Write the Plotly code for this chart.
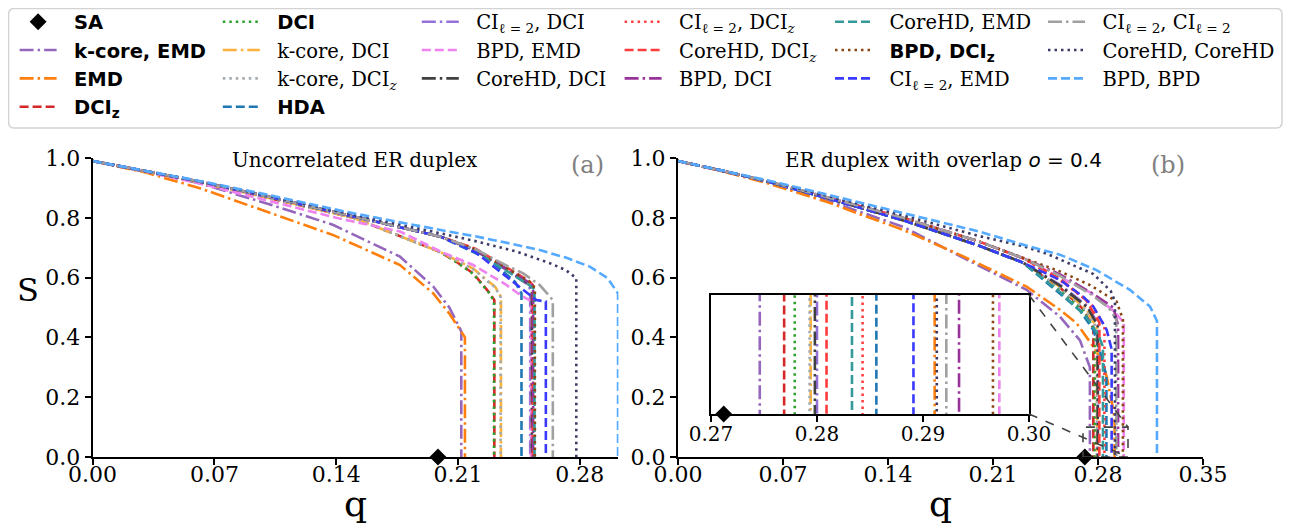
import plotly.graph_objects as go

# page body has an 8px margin; figure is sized/offset so it lands on the reference pixels
OFF = 8
W, H = 1294 - OFF, 529 - OFF

# ---------------- Panel (a): uncorrelated ER duplex ----------------
A_HEAD_Q = [0.0, 0.03, 0.06, 0.10, 0.15, 0.20]
A_TOP_S = [0.99, 0.957, 0.923, 0.872, 0.805, 0.737]
A_LOW_S = [0.99, 0.956, 0.920, 0.868, 0.800, 0.685]

a_kcore_emd_q = [0.0, 0.03, 0.0617, 0.1001, 0.1384, 0.1767, 0.1958, 0.205, 0.2111, 0.2119, 0.2119]
a_kcore_emd_s = [0.99, 0.957, 0.915, 0.848, 0.776, 0.670, 0.570, 0.500, 0.430, 0.420, 0.0]
a_emd_q = [0.0, 0.03, 0.0617, 0.1001, 0.1384, 0.1767, 0.1958, 0.205, 0.2131, 0.2140, 0.2140]
a_emd_s = [0.99, 0.952, 0.899, 0.820, 0.742, 0.642, 0.547, 0.480, 0.405, 0.400, 0.0]
a_dciz_q = A_HEAD_Q + [0.209, 0.2188, 0.2284, 0.2309, 0.2309]
a_dciz_s = A_LOW_S + [0.653, 0.614, 0.547, 0.525, 0.0]
a_dci_q = A_HEAD_Q + [0.209, 0.2188, 0.2284, 0.2307, 0.2307]
a_dci_s = A_LOW_S + [0.652, 0.612, 0.545, 0.520, 0.0]
a_kcore_dci_q = A_HEAD_Q + [0.209, 0.2188, 0.2265, 0.2313, 0.2347, 0.2347]
a_kcore_dci_s = A_LOW_S + [0.660, 0.630, 0.592, 0.570, 0.536, 0.0]
a_kcore_dciz_q = A_HEAD_Q + [0.209, 0.2188, 0.2265, 0.2313, 0.2345, 0.2345]
a_kcore_dciz_s = A_LOW_S + [0.658, 0.628, 0.590, 0.568, 0.535, 0.0]
a_hda_q = A_HEAD_Q + [0.2188, 0.2284, 0.2428, 0.2465, 0.2465]
a_hda_s = A_TOP_S + [0.685, 0.659, 0.586, 0.547, 0.0]
a_ci_dci_q = A_HEAD_Q + [0.22, 0.238, 0.2505, 0.2515, 0.2515]
a_ci_dci_s = A_TOP_S + [0.690, 0.625, 0.575, 0.560, 0.0]
a_bpd_emd_q = [0.0, 0.03, 0.06, 0.10, 0.14, 0.1767, 0.20, 0.2188, 0.238, 0.2457, 0.252, 0.252]
a_bpd_emd_s = [0.99, 0.955, 0.917, 0.858, 0.800, 0.754, 0.687, 0.642, 0.575, 0.542, 0.522, 0.0]
a_corehd_dci_q = A_HEAD_Q + [0.22, 0.238, 0.2505, 0.2525, 0.2525]
a_corehd_dci_s = A_TOP_S + [0.692, 0.628, 0.580, 0.565, 0.0]
a_ci_dciz_q = A_HEAD_Q + [0.22, 0.238, 0.251, 0.2535, 0.2535]
a_ci_dciz_s = A_TOP_S + [0.695, 0.632, 0.585, 0.570, 0.0]
a_corehd_dciz_q = A_HEAD_Q + [0.22, 0.238, 0.251, 0.2530, 0.2530]
a_corehd_dciz_s = A_TOP_S + [0.697, 0.635, 0.588, 0.575, 0.0]
a_bpd_dci_q = A_HEAD_Q + [0.22, 0.238, 0.251, 0.2532, 0.2532]
a_bpd_dci_s = A_TOP_S + [0.693, 0.630, 0.583, 0.570, 0.0]
a_corehd_emd_q = A_HEAD_Q + [0.22, 0.238, 0.251, 0.2540, 0.2540]
a_corehd_emd_s = A_TOP_S + [0.688, 0.622, 0.575, 0.560, 0.0]
a_bpd_dciz_q = A_HEAD_Q + [0.22, 0.238, 0.251, 0.2542, 0.2542]
a_bpd_dciz_s = A_TOP_S + [0.694, 0.633, 0.587, 0.565, 0.0]
a_ci_emd_q = A_HEAD_Q + [0.22, 0.238, 0.2475, 0.255, 0.2605, 0.2605]
a_ci_emd_s = A_TOP_S + [0.685, 0.603, 0.558, 0.525, 0.520, 0.0]
a_ci_ci_q = A_HEAD_Q + [0.22, 0.238, 0.2475, 0.257, 0.2645, 0.2645]
a_ci_ci_s = A_TOP_S + [0.695, 0.640, 0.614, 0.575, 0.525, 0.0]
a_corehd_corehd_q = [0.0, 0.03, 0.06, 0.10, 0.15, 0.20, 0.22, 0.2437, 0.2629, 0.272, 0.278, 0.278]
a_corehd_corehd_s = [0.99, 0.957, 0.924, 0.875, 0.810, 0.748, 0.722, 0.687, 0.648, 0.625, 0.598, 0.0]
a_bpd_bpd_q = [0.0, 0.03, 0.06, 0.10, 0.15, 0.20, 0.22, 0.24, 0.257, 0.272, 0.286, 0.296, 0.302, 0.302]
a_bpd_bpd_s = [0.99, 0.958, 0.925, 0.878, 0.815, 0.759, 0.738, 0.714, 0.692, 0.667, 0.636, 0.598, 0.547, 0.0]
a_sa_q = [0.1985]
a_sa_s = [0.0]

# ---------------- Panel (b): ER duplex with overlap o = 0.4 ----------------
B_HEAD_Q = [0.0, 0.03, 0.06, 0.10, 0.15, 0.20, 0.23]
B_UP_S = [0.99, 0.957, 0.922, 0.868, 0.800, 0.722, 0.665]
B_MID_S = [0.99, 0.957, 0.921, 0.865, 0.792, 0.708, 0.650]

b_kcore_emd_q = [0.0, 0.03, 0.06, 0.10, 0.1213, 0.15, 0.188, 0.2324, 0.2547, 0.268, 0.2746, 0.2746]
b_kcore_emd_s = [0.99, 0.957, 0.918, 0.857, 0.820, 0.770, 0.672, 0.559, 0.469, 0.390, 0.300, 0.0]
b_emd_q = [0.0, 0.03, 0.06, 0.10, 0.1213, 0.15, 0.188, 0.2324, 0.2547, 0.2658, 0.2769, 0.2824, 0.2858, 0.2905, 0.2911, 0.2911]
b_emd_s = [0.99, 0.955, 0.915, 0.852, 0.812, 0.760, 0.676, 0.570, 0.492, 0.447, 0.369, 0.324, 0.269, 0.150, 0.110, 0.0]
b_dciz_q = B_HEAD_Q + [0.255, 0.270, 0.2769, 0.2769]
b_dciz_s = B_MID_S + [0.565, 0.495, 0.430, 0.0]
b_dci_q = B_HEAD_Q + [0.255, 0.270, 0.2779, 0.2779]
b_dci_s = B_MID_S + [0.560, 0.490, 0.425, 0.0]
b_kcore_dci_q = B_HEAD_Q + [0.255, 0.272, 0.2794, 0.2794]
b_kcore_dci_s = B_MID_S + [0.568, 0.495, 0.430, 0.0]
b_kcore_dciz_q = B_HEAD_Q + [0.255, 0.272, 0.2793, 0.2793]
b_kcore_dciz_s = B_MID_S + [0.565, 0.490, 0.430, 0.0]
b_hda_q = B_HEAD_Q + [0.255, 0.268, 0.2769, 0.2824, 0.2856, 0.2856]
b_hda_s = B_MID_S + [0.545, 0.490, 0.425, 0.335, 0.270, 0.0]
b_ci_dci_q = B_HEAD_Q + [0.255, 0.273, 0.2800, 0.2800]
b_ci_dci_s = B_MID_S + [0.575, 0.505, 0.445, 0.0]
b_bpd_emd_q = B_HEAD_Q + [0.255, 0.275, 0.290, 0.2972, 0.2972]
b_bpd_emd_s = B_UP_S + [0.600, 0.550, 0.490, 0.450, 0.0]
b_corehd_dci_q = B_HEAD_Q + [0.255, 0.273, 0.2798, 0.2798]
b_corehd_dci_s = B_MID_S + [0.572, 0.500, 0.440, 0.0]
b_ci_dciz_q = B_HEAD_Q + [0.255, 0.275, 0.2843, 0.2843]
b_ci_dciz_s = B_UP_S + [0.590, 0.515, 0.440, 0.0]
b_corehd_dciz_q = B_HEAD_Q + [0.255, 0.272, 0.2809, 0.2809]
b_corehd_dciz_s = B_UP_S + [0.595, 0.525, 0.450, 0.0]
b_bpd_dci_q = B_HEAD_Q + [0.255, 0.2769, 0.2902, 0.2934, 0.2934]
b_bpd_dci_s = B_UP_S + [0.610, 0.545, 0.500, 0.440, 0.0]
b_corehd_emd_q = B_HEAD_Q + [0.255, 0.272, 0.280, 0.2833, 0.2833]
b_corehd_emd_s = B_MID_S + [0.550, 0.470, 0.410, 0.370, 0.0]
b_bpd_dciz_q = B_HEAD_Q + [0.255, 0.2747, 0.2924, 0.2966, 0.2966]
b_bpd_dciz_s = B_UP_S + [0.620, 0.575, 0.520, 0.460, 0.0]
b_ci_emd_q = B_HEAD_Q + [0.2547, 0.2702, 0.2769, 0.2858, 0.2891, 0.2891]
b_ci_emd_s = B_MID_S + [0.592, 0.536, 0.503, 0.425, 0.360, 0.0]
b_ci_ci_q = B_HEAD_Q + [0.255, 0.275, 0.287, 0.2922, 0.2922]
b_ci_ci_s = B_UP_S + [0.605, 0.545, 0.500, 0.460, 0.0]
b_corehd_corehd_q = [0.0, 0.03, 0.06, 0.10, 0.15, 0.20, 0.23, 0.2458, 0.2769, 0.2885, 0.2913, 0.2913]
b_corehd_corehd_s = [0.99, 0.957, 0.923, 0.873, 0.808, 0.740, 0.705, 0.680, 0.612, 0.555, 0.520, 0.0]
b_bpd_bpd_q = [0.0, 0.03, 0.06, 0.10, 0.15, 0.20, 0.235, 0.255, 0.279, 0.3013, 0.3147, 0.3193, 0.3193]
b_bpd_bpd_s = [0.99, 0.958, 0.925, 0.877, 0.815, 0.755, 0.703, 0.676, 0.625, 0.559, 0.503, 0.455, 0.0]
b_sa_q = [0.2712]
b_sa_s = [0.0]

A_XTICKS = [0.0, 0.07, 0.14, 0.21, 0.28]
B_XTICKS = [0.0, 0.07, 0.14, 0.21, 0.28, 0.35]
Y_TICKS = [0.0, 0.2, 0.4, 0.6, 0.8, 1.0]
INSET_XTICKS = [0.27, 0.28, 0.29, 0.30]
INSET_Q = [0.27, 0.30]
INSET_S = [0.0, 0.1]

SANS = "DejaVu Sans"
SERIF = "DejaVu Serif"
PAD = "\u00a0\u00a0"


def bold(t):
    return f"{PAD}<span style='font-family:{SANS}'><b>{t}</b></span>"


def plain(t):
    return PAD + t


CI = "CI<sub>ℓ = 2</sub>"
DCIZ = "DCI<sub><i>z</i></sub>"

DASHED = "9px,4px"
DOTTED = "2.5px,4px"
DASHDOT = "14px,4px,2.5px,4px"

# key, legend label, colour, dash, legend id, rank
SERIES = [
    ("kcore_emd", bold("k-core, EMD"), "#9467bd", DASHDOT, "legend", 2),
    ("emd", bold("EMD"), "#ff7f0e", DASHDOT, "legend", 3),
    ("dciz", bold("DCI<sub>z</sub>"), "#d62728", DASHED, "legend", 4),
    ("dci", bold("DCI"), "#2ca02c", DOTTED, "legend2", 1),
    ("kcore_dci", plain("k-core, DCI"), "#fbb13c", DASHDOT, "legend2", 2),
    ("kcore_dciz", plain("k-core, " + DCIZ), "#a3aab0", DOTTED, "legend2", 3),
    ("hda", bold("HDA"), "#1f77b4", DASHED, "legend2", 4),
    ("ci_dci", plain(CI + ", DCI"), "#9370db", DASHDOT, "legend3", 1),
    ("bpd_emd", plain("BPD, EMD"), "#ee82ee", DASHED, "legend3", 2),
    ("corehd_dci", plain("CoreHD, DCI"), "#404040", DASHDOT, "legend3", 3),
    ("ci_dciz", plain(CI + ", " + DCIZ), "#ff4040", DOTTED, "legend4", 1),
    ("corehd_dciz", plain("CoreHD, " + DCIZ), "#ff3c3c", DASHED, "legend4", 2),
    ("bpd_dci", plain("BPD, DCI"), "#993399", DASHDOT, "legend4", 3),
    ("corehd_emd", plain("CoreHD, EMD"), "#339999", DASHED, "legend5", 1),
    ("bpd_dciz", bold("BPD, DCI<sub>z</sub>"), "#8b4513", DOTTED, "legend5", 2),
    ("ci_emd", plain(CI + ", EMD"), "#3a3aff", DASHED, "legend5", 3),
    ("ci_ci", plain(CI + ", " + CI), "#a0a0a0", DASHDOT, "legend6", 1),
    ("corehd_corehd", plain("CoreHD, CoreHD"), "#3b3b66", DOTTED, "legend6", 2),
    ("bpd_bpd", plain("BPD, BPD"), "#55aaff", DASHED, "legend6", 3),
]

DATA = {k: (globals()[f"a_{k}_q"], globals()[f"a_{k}_s"], globals()[f"b_{k}_q"], globals()[f"b_{k}_s"])
        for k, *_ in SERIES}

# ---------------- layout geometry (reference pixels) ----------------
AX_L, AX_R = 92.6, 618.4
A_RANGE = [0, 0.3022]
BX_L, BX_R = 678.0, 1203.0
B_RANGE = [0, 0.35]
Y_TOP, Y_BOT = 158.0, 457.0
IN_L, IN_R, IN_T, IN_B = 711.0, 1029.0, 295.0, 414.0


def fx(p):
    return (p - OFF) / W


def fy(p):
    return 1 - (p - OFF) / H


fig = go.Figure()

for key, label, color, dash, leg, rank in SERIES:
    aq, as_, bq, bs = DATA[key]
    line = dict(color=color, width=2.6, dash=dash)
    fig.add_trace(go.Scatter(x=aq, y=as_, mode="lines", name=label, line=line, legend=leg,
                             legendrank=rank, xaxis="x", yaxis="y", showlegend=True))
    fig.add_trace(go.Scatter(x=bq, y=bs, mode="lines", name=label, line=line, legend=leg,
                             showlegend=False, xaxis="x2", yaxis="y2"))
    fig.add_trace(go.Scatter(x=bq, y=bs, mode="lines", name=label, line=line, legend=leg,
                             showlegend=False, xaxis="x3", yaxis="y3"))

sa_marker = dict(symbol="diamond", size=13, color="black")
fig.add_trace(go.Scatter(x=a_sa_q, y=a_sa_s, mode="markers", name=bold("SA"), marker=sa_marker,
                         legend="legend", legendrank=1, cliponaxis=False, xaxis="x", yaxis="y"))
fig.add_trace(go.Scatter(x=b_sa_q, y=b_sa_s, mode="markers", name="SA", marker=sa_marker,
                         showlegend=False, cliponaxis=False, xaxis="x2", yaxis="y2"))
fig.add_trace(go.Scatter(x=b_sa_q, y=b_sa_s, mode="markers", name="SA", marker=sa_marker,
                         showlegend=False, cliponaxis=False, xaxis="x3", yaxis="y3"))

tickfont = dict(family=SERIF, size=22, color="black")
axis_common = dict(showline=True, linecolor="black", linewidth=2, ticks="outside", ticklen=6,
                   tickwidth=2, tickcolor="black", showgrid=False, zeroline=False, tickfont=tickfont,
                   automargin=False)

ydom = [fy(Y_BOT), fy(Y_TOP)]
fig.update_layout(
    xaxis=dict(domain=[fx(AX_L), fx(AX_R)], range=A_RANGE, tickvals=A_XTICKS, tickformat=".2f",
               anchor="y", ticklabelstandoff=-9, **axis_common),
    yaxis=dict(domain=ydom, range=[0, 1], tickvals=Y_TICKS, tickformat=".1f", anchor="x", **axis_common),
    xaxis2=dict(domain=[fx(BX_L), fx(BX_R)], range=B_RANGE, tickvals=B_XTICKS, tickformat=".2f",
                anchor="y2", ticklabelstandoff=-9, **axis_common),
    yaxis2=dict(domain=ydom, range=[0, 1], tickvals=Y_TICKS, tickformat=".1f", anchor="x2", **axis_common),
    xaxis3=dict(domain=[fx(IN_L), fx(IN_R)], range=INSET_Q, tickvals=INSET_XTICKS, tickformat=".2f",
                anchor="y3", mirror=True, showline=True, linecolor="black", linewidth=2, ticks="outside",
                ticklen=6, tickwidth=2, tickcolor="black", showgrid=False, zeroline=False, automargin=False,
                ticklabelstandoff=-5, tickfont=dict(family=SERIF, size=20, color="black")),
    yaxis3=dict(domain=[fy(IN_B), fy(IN_T)], range=INSET_S, anchor="x3", mirror=True, showline=True,
                linecolor="black", linewidth=2, ticks="", showticklabels=False, showgrid=False,
                zeroline=False, automargin=False),
)

# legends: one per column
LEG_TEXT_X = [74.6, 277.8, 476.8, 679.6, 890.0, 1103.0]
ITEMW = 37
legfont = dict(family=SERIF, size=19.5, color="black")
for i, tx in enumerate(LEG_TEXT_X):
    name = "legend" if i == 0 else f"legend{i + 1}"
    fig.update_layout({name: dict(x=fx(tx - ITEMW - 23), y=fy(2.5), xanchor="left", yanchor="top",
                                  orientation="v", bgcolor="rgba(0,0,0,0)", borderwidth=0,
                                  font=legfont, itemwidth=ITEMW, tracegroupgap=0, traceorder="normal")})

# legend frame (rounded)
x0, x1 = fx(8.5), fx(1282)
y0, y1 = fy(128), fy(8.5)
rx, ry = 6 / W, 6 / H
path = (f"M{x0 + rx},{y1} L{x1 - rx},{y1} Q{x1},{y1} {x1},{y1 - ry} L{x1},{y0 + ry} "
        f"Q{x1},{y0} {x1 - rx},{y0} L{x0 + rx},{y0} Q{x0},{y0} {x0},{y0 + ry} "
        f"L{x0},{y1 - ry} Q{x0},{y1} {x0 + rx},{y1} Z")
shapes = [dict(type="path", xref="paper", yref="paper", path=path, fillcolor="white",
               line=dict(color="#d3d3d3", width=1.5), layer="below")]

# zoom rectangle in panel (b) and connector lines to inset corners
shapes.append(dict(type="rect", xref="x2", yref="y2", x0=INSET_Q[0], x1=INSET_Q[1], y0=INSET_S[0],
                   y1=INSET_S[1], line=dict(color="#444444", width=1.6, dash="dash"), layer="above"))


def b_q(px):
    return B_RANGE[0] + (px - BX_L) / (BX_R - BX_L) * (B_RANGE[1] - B_RANGE[0])


def b_s(py):
    return (Y_BOT - py) / (Y_BOT - Y_TOP)


shapes.append(dict(type="line", xref="x2", yref="y2", x0=b_q(IN_R), y0=b_s(IN_T), x1=INSET_Q[1],
                   y1=INSET_S[1], line=dict(color="#444444", width=1.6, dash="dash"), layer="above"))
shapes.append(dict(type="line", xref="x2", yref="y2", x0=b_q(IN_R), y0=b_s(IN_B), x1=INSET_Q[1],
                   y1=INSET_S[0], line=dict(color="#444444", width=1.6, dash="dash"), layer="above"))

annotations = [
    dict(text="S", x=fx(28), y=fy(290), font=dict(family=SERIF, size=32)),
    dict(text="q", x=fx((AX_L + AX_R) / 2), y=fy(503), font=dict(family=SERIF, size=36)),
    dict(text="q", x=fx((BX_L + BX_R) / 2), y=fy(503), font=dict(family=SERIF, size=36)),
    dict(text="Uncorrelated ER duplex", x=fx(355), y=fy(160), font=dict(family=SERIF, size=20)),
    dict(text=f"ER duplex with overlap <span style='font-family:{SANS}'><i>o</i> = 0.4</span>",
         x=fx(943), y=fy(160), font=dict(family=SERIF, size=20)),
    dict(text="(a)", x=fx(587), y=fy(165), font=dict(family=SERIF, size=24, color="#808080")),
    dict(text="(b)", x=fx(1168), y=fy(165), font=dict(family=SERIF, size=24, color="#808080")),
]
for a in annotations:
    a.update(xref="paper", yref="paper", showarrow=False, xanchor="center", yanchor="middle")

fig.update_layout(template="none", width=W, height=H, autosize=False,
                  margin=dict(l=0, r=0, t=0, b=0, autoexpand=False),
                  paper_bgcolor="white", plot_bgcolor="white", shapes=shapes, annotations=annotations,
                  font=dict(family=SERIF, color="black"))

fig.write_html("out.html")
